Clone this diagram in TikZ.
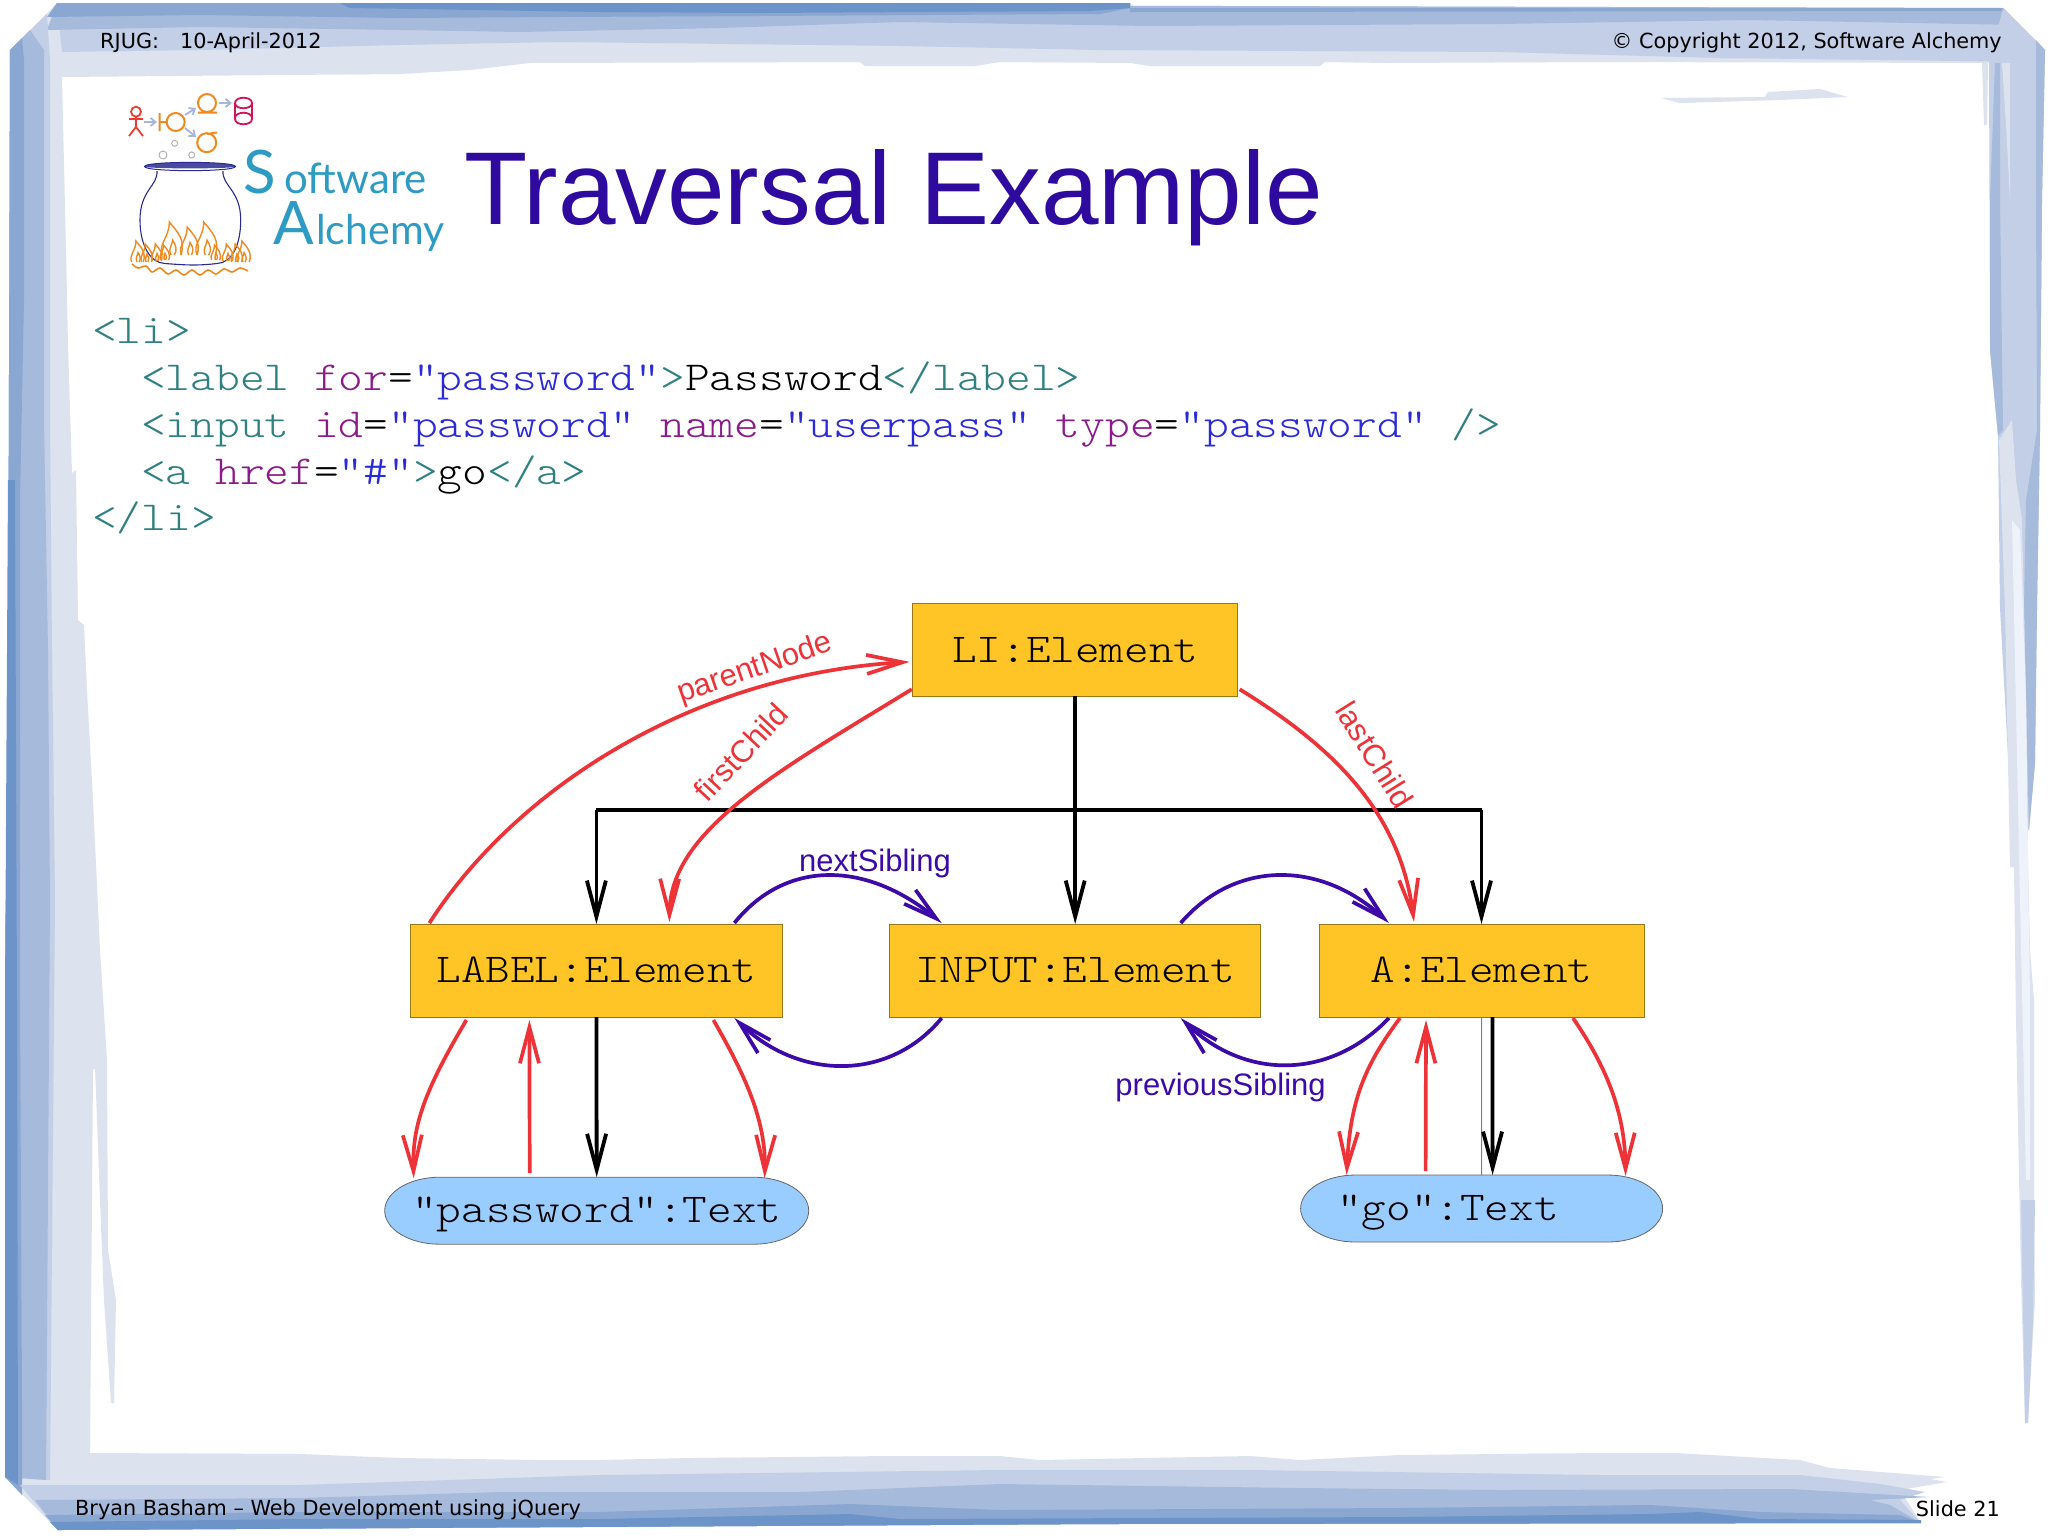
\documentclass[tikz,border=0pt]{standalone}
\usepackage{fontspec}
\usetikzlibrary{arrows.meta,calc}
\newfontfamily\hdrfont{DejaVu Sans}
\newfontfamily\arialfont{Liberation Sans}
\newfontfamily\logofont{Lato}
\newfontfamily\codefont[FakeStretch=1.143]{Latin Modern Mono Light}
\definecolor{fl}{HTML}{DCE2EE}
\definecolor{fm}{HTML}{C3CFE6}
\definecolor{fd}{HTML}{A6BADC}
\definecolor{fy}{HTML}{8AA7D2}
\definecolor{fx}{HTML}{6C94C8}
\definecolor{fw}{HTML}{EEF2FB}
\definecolor{tagc}{HTML}{2F8080}
\definecolor{attc}{HTML}{8B1A8B}
\definecolor{strc}{HTML}{2A2AD8}
\definecolor{titlec}{HTML}{2E0A9E}
\definecolor{redc}{HTML}{EE3338}
\definecolor{bluc}{HTML}{3B0AA8}
\definecolor{boxc}{HTML}{FFC425}
\definecolor{pillc}{HTML}{99CCFF}
\definecolor{orc}{HTML}{F08A1E}
\definecolor{potc}{HTML}{2A2A90}
\definecolor{logoc}{HTML}{2E9BC4}
\definecolor{arrc}{HTML}{A8B4D8}
\newcommand\cT[1]{\textcolor{tagc}{#1}}
\newcommand\cA[1]{\textcolor{attc}{#1}}
\newcommand\cS[1]{\textcolor{strc}{#1}}
\newcommand\pillshape[1]{\draw[pillstyle] (#1.west) .. controls +(0,-18.5) and +(-30.4,0) .. ($(#1.north west)+(55,0)$) -- ($(#1.north east)+(-55,0)$) .. controls +(30.4,0) and +(0,-18.5) .. (#1.east) .. controls +(0,18.5) and +(30.4,0) .. ($(#1.south east)+(-55,0)$) -- ($(#1.south west)+(55,0)$) .. controls +(-30.4,0) and +(0,18.5) .. (#1.west) -- cycle;}
\tikzset{
  elembox/.style={draw=black!40!boxc,line width=1pt,fill=boxc,minimum width=#1,minimum height=93pt,inner sep=0pt,outer sep=0pt},
  pillbox/.style={minimum width=#1,minimum height=67pt,inner sep=0pt,outer sep=0pt},
  pillstyle/.style={draw=black!60,line width=.8pt,fill=pillc},
  pilltext/.style={anchor=base west,inner sep=0pt,font=\codefont\fontsize{41}{41}\selectfont},
  codeline/.style={anchor=base west,inner sep=0pt,font=\codefont\fontsize{41.2}{41.2}\selectfont},
  hdrtext/.style={inner sep=0pt,font=\hdrfont\fontsize{20.8}{20.8}\selectfont},
  lbl/.style={inner sep=0pt,font=\arialfont\fontsize{31}{31}\selectfont},
  blackarr/.style={line width=3.8pt,black,-{Straight Barb[length=36pt,width=19pt]}},
  blackline/.style={line width=3.8pt,black},
  redarr/.style={line width=3.7pt,redc,-{Straight Barb[length=36pt,width=19pt]}},
  bluarr/.style={line width=3.7pt,bluc,-{Straight Barb[length=34pt,width=18pt]}},
  logoline/.style={line width=2pt,orc},
  logoarrow/.style={line width=1.8pt,arrc,-{Straight Barb[length=5pt,width=8pt]}},
}
\begin{document}
\begin{tikzpicture}[x=1pt,y=-1pt]
\useasboundingbox (0,0) rectangle (2048,1535);
\fill[white] (0,0) rectangle (2048,1535);
% ---- frame: light layer
\fill[fl] (57,3) -- (1130,3) -- (1135,8) -- (2003,8) -- (2045,50) -- (2040,64) -- (1989,63) -- (1600,62) -- (1385,63) -- (1325,62) -- (1320,66) -- (1150,66) -- (1130,63) -- (1000,62) -- (975,66) -- (865,66) -- (860,62) -- (530,63) -- (470,70) -- (400,74) -- (60,77) -- (48,50) -- cycle;
\fill[fl] (10,50) -- (57,3) -- (62,78) -- (66,250) -- (68,345) -- (72,473) -- (76,470) -- (78,620) -- (84,625) -- (87,690) -- (93,800) -- (100,950) -- (107,1060) -- (93,1070) -- (92,1200) -- (90,1453) -- (90,1480) -- (5,1477) -- (5,1000) -- (8,700) -- cycle;
\fill[fl] (95,1066) -- (107,1060) -- (108,1250) -- (116,1300) -- (114,1403) -- (111,1403) -- (104,1300) -- (100,1200) -- cycle;
\fill[fl] (90,1453) -- (300,1454) -- (400,1458) -- (540,1460) -- (600,1460) -- (690,1458) -- (890,1456) -- (1000,1456) -- (1040,1460) -- (1250,1456) -- (1300,1460) -- (1400,1455) -- (1600,1453) -- (1675,1453) -- (1800,1460) -- (1830,1468) -- (1945,1477) -- (1930,1479) -- (1947,1482) -- (1900,1490) -- (1921,1523) -- (1100,1524) -- (58,1530) -- (5,1477) -- (60,1477) -- cycle;
% fleck strokes
\fill[fl] (1982,63) -- (1988,63) -- (1987,125) -- (1984,125) -- cycle;
\fill[fl] (1661,98) -- (1765,97) -- (1768,92) -- (1820,89) -- (1848,97) -- (1780,100) -- (1680,103) -- cycle;
% ---- top layers
\fill[fm] (57,3) -- (2003,8) -- (2045,50) -- (2042,62) -- (1720,58) -- (1500,52) -- (1100,50) -- (900,46) -- (560,42) -- (400,45) -- (200,50) -- (62,52) -- cycle;
\fill[fd] (57,3) -- (2003,8) -- (2020,25) -- (1750,20) -- (1500,24) -- (1150,26) -- (900,22) -- (720,28) -- (520,32) -- (400,30) -- (200,27) -- (47,30) -- cycle;
\fill[fy] (57,3) -- (1130,3) -- (1130,8) -- (1100,14) -- (760,16) -- (560,17) -- (400,18) -- (200,15) -- (47,17) -- cycle;
\fill[fx] (340,3) -- (1130,3) -- (1130,8) -- (1090,11) -- (760,13) -- (600,12) -- (350,8) -- cycle;
\fill[fy] (1130,8) -- (2003,8) -- (2006,11) -- (1130,12) -- cycle;
% ---- left layers
\fill[fm] (10,50) -- (47,14) -- (50,60) -- (50,420) -- (52,650) -- (55,900) -- (50,1480) -- (5,1477) -- (5,1000) -- (8,700) -- cycle;
\fill[fd] (10,50) -- (30,30) -- (44,50) -- (44,420) -- (48,650) -- (50,900) -- (46,1480) -- (5,1477) -- (5,1000) -- (8,700) -- cycle;
\fill[fy] (10,50) -- (22,38) -- (24,60) -- (24,300) -- (20,500) -- (20,1000) -- (22,1400) -- (22,1495) -- (5,1477) -- (5,1000) -- (8,700) -- cycle;
\fill[fx] (8,480) -- (15,480) -- (17,1000) -- (18,1485) -- (5,1477) -- (5,1000) -- cycle;
% ---- bottom layers
\fill[fm] (20,1485) -- (300,1485) -- (600,1475) -- (1000,1470) -- (1250,1470) -- (1600,1475) -- (1800,1475) -- (1880,1484) -- (1925,1492) -- (1900,1500) -- (1921,1523) -- (1100,1524) -- (58,1530) -- cycle;
\fill[fd] (35,1500) -- (300,1498) -- (500,1492) -- (800,1492) -- (1000,1484) -- (1300,1488) -- (1500,1490) -- (1790,1489) -- (1930,1497) -- (1870,1500) -- (1890,1505) -- (1921,1523) -- (1100,1524) -- (58,1530) -- cycle;
\fill[fy] (45,1515) -- (300,1512) -- (600,1512) -- (850,1504) -- (1000,1510) -- (1400,1508) -- (1650,1505) -- (1760,1512) -- (1900,1515) -- (1921,1523) -- (1100,1524) -- (58,1530) -- cycle;
\fill[fx] (50,1522) -- (300,1519) -- (600,1519) -- (850,1514) -- (900,1519) -- (1400,1517) -- (1650,1514) -- (1700,1512) -- (1760,1519) -- (1921,1520) -- (1921,1523) -- (1100,1524) -- (58,1530) -- cycle;
% ---- right layers
\fill[fm] (2003,8) -- (2045,50) -- (2042,200) -- (2040,430) -- (2037,608) -- (2035,763) -- (2029,830) -- (2012,830) -- (2000,608) -- (1998,436) -- (1990,350) -- (1989,63) -- cycle;
\fill[fd] (2036,40) -- (2045,50) -- (2042,200) -- (2040,430) -- (2037,608) -- (2035,763) -- (2029,830) -- (2024,608) -- (2026,500) -- (2037,430) -- (2036,200) -- cycle;
\fill[fd] (1990,200) -- (1995,63) -- (2000,63) -- (2000,200) -- (2003,430) -- (1998,436) -- (1990,350) -- cycle;
\fill[fl] (2002,63) -- (2010,63) -- (2010,200) -- (2006,125) -- cycle;
\fill[fl] (1999,440) -- (2012,420) -- (2016,480) -- (2022,520) -- (2026,700) -- (2028,860) -- (2030,950) -- (2034,1000) -- (2034,1200) -- (2035,1300) -- (2028,1423) -- (2025,1423) -- (2021,1280) -- (2016,1020) -- (2014,867) -- (2010,867) -- (2005,610) -- cycle;
\fill[fm] (2021,1200) -- (2035,1200) -- (2033,1320) -- (2028,1423) -- (2025,1423) -- cycle;
\fill[fw] (2012,520) -- (2020,530) -- (2026,700) -- (2028,860) -- (2030,1000) -- (2030,1180) -- (2026,1180) -- (2020,900) -- cycle;
% ---- header / footer
\node[hdrtext,anchor=base west] (hdrl) at (100,48) {RJUG:\hspace{21pt}10-April-2012};
\node[hdrtext,anchor=base east] (hdrr) at (2002,48) {© Copyright 2012, Software Alchemy};
\node[hdrtext,anchor=base west] (ftrl) at (75,1515) {Bryan Basham – Web Development using jQuery};
\node[hdrtext,anchor=base east] (ftrr) at (2000,1516) {Slide 21};
% ---- title
\node[anchor=base west,inner sep=0pt,text=titlec,font=\arialfont\fontsize{103.5}{103.5}\selectfont] (title) at (464,224) {Traversal Example};
% ---- logo
\draw[line width=1.8pt,redc!90!orange] (136,111.7) circle (5) (136,117) -- (136,127) (129,119) -- (143,119) (129,136) -- (136,127) -- (143,136);
\draw[logoarrow] (144,122) -- (157,122);
\draw[logoline] (159.5,113) -- (159.5,131) (159.5,122) -- (166.7,122) (175.7,122) circle (9);
\draw[logoarrow] (185,115) -- (196,108);
\draw[logoarrow] (185,128) -- (196,137);
\draw[logoline] (207,103) circle (9) (198,112.5) -- (217,112.5);
\draw[logoarrow] (219,103) -- (232,103);
\draw[line width=1.8pt,color={rgb,255:red,212;green,20;blue,90}] (235,103) -- (235,119) .. controls (235,126) and (252,126) .. (252,119) -- (252,103) .. controls (252,96) and (235,96) .. (235,103) .. controls (235,110) and (252,110) .. (252,103) (235,118) .. controls (235,111) and (252,111) .. (252,118);
\draw[logoline] (206.7,142.7) circle (9.5) (207,134) -- (217,132.5);
\draw[line width=1pt,black!30] (174.7,143.3) circle (3) (163,155) circle (4) (191.7,155) circle (3);
\fill[potc!85!white] (144.5,166.5) .. controls (144.5,161) and (235.5,161) .. (235.5,166.5) .. controls (235.5,169) and (144.5,169) .. (144.5,166.5) -- cycle;
\draw[line width=1pt,potc] (144.5,166.5) .. controls (144.5,161) and (235.5,161) .. (235.5,166.5) .. controls (235.5,172) and (144.5,172) .. (144.5,166.5) -- cycle;
\draw[line width=1.1pt,potc] (157,171) .. controls (158,186) and (140,190) .. (140,220) .. controls (140,245) and (150,263) .. (165,263.5) .. controls (190,265.5) and (200,265.5) .. (217,263.5) .. controls (232,263) and (240.7,245) .. (240.7,220) .. controls (240.7,190) and (222,186) .. (223,171);
\foreach \fx/\fy/\fs in {172.6/255/33,190/255/28,207/255/33,138/262/21,147/262/18,157/261/17,165/260/15,216/260/15,228/261/17,237/262/18,244/262/21}{
\begin{scope}[shift={(\fx,\fy)},scale=\fs]
\draw[line width=1.4pt,orc] (-.3,0) .. controls (-.45,-.35) and (-.1,-.5) .. (-.1,-1) .. controls (.15,-.7) and (.4,-.45) .. (.25,0) (-.05,0) .. controls (-.15,-.2) and (0,-.3) .. (0,-.45) .. controls (.1,-.3) and (.15,-.15) .. (.05,0);
\end{scope}}
\draw[line width=1.6pt,orc] plot[smooth] coordinates {(132,264) (138,268) (146,266) (152,272) (160,268) (168,274) (176,270) (184,275) (192,270) (200,275) (208,270) (216,274) (224,269) (232,272) (240,268) (248,271)};
\node[anchor=base west,inner sep=0pt,text=logoc,font=\logofont\fontsize{60}{60}\selectfont] (logos) at (243,193) {S};
\node[anchor=base west,inner sep=0pt,text=logoc,font=\logofont\fontsize{42}{42}\selectfont] (logoa) at (284,193) {oftware};
\node[anchor=base west,inner sep=0pt,text=logoc,font=\logofont\fontsize{60}{60}\selectfont] (logob) at (273,244) {A};
\node[anchor=base west,inner sep=0pt,text=logoc,font=\logofont\fontsize{41}{41}\selectfont] (logoc) at (316,244) {lchemy};
% ---- code
\node[codeline] (c0) at (92,343) {\cT{<li>}};
\node[codeline] (c1) at (141,390) {\cT{<label} \cA{for}=\cS{"password"}\cT{>}Password\cT{</label>}};
\node[codeline] (c2) at (141,437) {\cT{<input} \cA{id}=\cS{"password"} \cA{name}=\cS{"userpass"} \cA{type}=\cS{"password"} \cT{/>}};
\node[codeline] (c3) at (141,484) {\cT{<a} \cA{href}=\cS{"\#"}\cT{>}go\cT{</a>}};
\node[codeline] (c4) at (92,530) {\cT{</li>}};
% ---- diagram nodes
\node[elembox=325pt] (li) at (1075.2,649.8) {};
\node[elembox=372pt] (lab) at (596.4,970.5) {};
\node[elembox=371pt] (inp) at (1075.2,970.5) {};
\node[elembox=325pt] (a) at (1481.5,970.5) {};
\node[pillbox=424pt] (pw) at (596.7,1210.7) {};
\node[pillbox=362pt] (go) at (1481.6,1208.5) {};
\pillshape{pw}
\pillshape{go}
\node[pilltext,anchor=base] (litext) at (1075.2,662) {LI:Element};
\node[pilltext,anchor=base] (labtext) at (596.4,982) {LABEL:Element};
\node[pilltext,anchor=base] (inptext) at (1075.2,982) {INPUT:Element};
\node[pilltext,anchor=base] (atext) at (1481.5,982) {A:Element};
\node[pilltext] (pwtext) at (412,1222) {"password":Text};
\node[pilltext] (gotext) at (1337,1220) {"go":Text};
% ---- black connectors
\coordinate (bus) at (1075.2,810);
\draw[blackline] (bus -| lab.north) -- (bus -| a.north);
\draw[blackline] (li.south) -- (bus);
\draw[blackarr] (bus) -- (inp.north);
\draw[blackarr] (bus -| lab.north) -- (lab.north);
\draw[blackarr] (bus -| a.north) -- (a.north);
\draw[blackarr] (lab.south) -- (pw.north);
\draw[black!50,line width=1pt] (a.south) -- (go.north);
\draw[blackarr] ($(a.south)+(11,0)$) -- ($(go.north)+(11,0)$);
% ---- red connectors
\draw[redarr] ($(lab.north west)+(19,-1)$) .. controls (515,790) and (690,675) .. ($(li.west)+(-3,12)$);
\draw[redarr] ($(li.south west)+(-1,-7)$) .. controls (780,770) and (670,830) .. ($(lab.north west)+(259,-2)$);
\draw[redarr] ($(li.south east)+(2,-7)$) .. controls (1330,745) and (1400,810) .. ($(a.north west)+(95,-2)$);
\draw[redarr] ($(lab.south west)+(56,3)$) .. controls (425,1090) and (412,1125) .. ($(pw.north west)+(29,1)$);
\draw[redarr] ($(pw.north west)+(145,-4)$) -- ($(lab.south west)+(119,3)$);
\draw[redarr] ($(lab.south west)+(303,3)$) .. controls (745,1075) and (766,1120) .. ($(pw.north west)+(380,1)$);
\draw[redarr] ($(a.south west)+(81,1)$) .. controls (1365,1065) and (1350,1100) .. ($(go.north west)+(46,0)$);
\draw[redarr] ($(go.north west)+(125,-4)$) -- ($(a.south west)+(107,3)$);
\draw[redarr] ($(a.south west)+(254,1)$) .. controls (1605,1065) and (1625,1110) .. ($(go.north west)+(325,1)$);
% ---- blue connectors
\draw[bluarr] ($(lab.north west)+(324,-1)$) .. controls (785,860) and (865,860) .. ($(inp.north west)+(52,-1)$);
\draw[bluarr] ($(inp.north west)+(291,-1)$) .. controls (1235,860) and (1320,860) .. ($(a.north west)+(70,-1)$);
\draw[bluarr] ($(inp.south west)+(52,1)$) .. controls (890,1081) and (800,1081) .. ($(lab.south west)+(324,1)$);
\draw[bluarr] ($(a.south west)+(70,1)$) .. controls (1330,1080) and (1245,1080) .. ($(inp.south west)+(291,1)$);
% ---- labels
\node[lbl,text=redc,rotate=19] (lparent) at (755,669) {parentNode};
\node[lbl,text=redc,rotate=47] (lfirst) at (741,752) {firstChild};
\node[lbl,text=redc,rotate=-58] (llast) at (1375,755) {lastChild};
\node[lbl,text=bluc,anchor=base] (lnext) at (875,871) {nextSibling};
\node[lbl,text=bluc,anchor=base] (lprev) at (1220.6,1095) {previousSibling};
\end{tikzpicture}
\end{document}
